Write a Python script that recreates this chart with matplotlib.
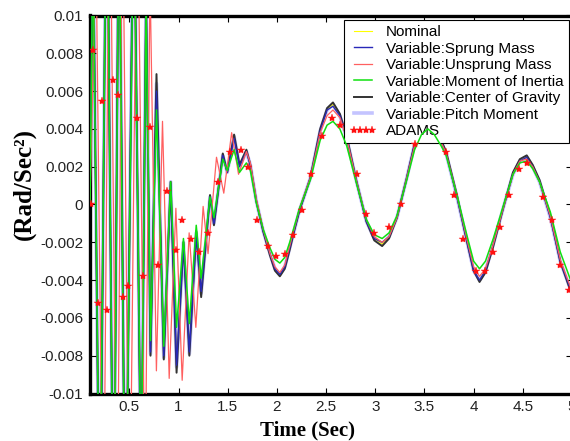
import matplotlib
matplotlib.use("Agg")
import matplotlib.pyplot as plt

# ---------------- data ----------------
t_main = [0.10, 0.13, 0.20, 0.27, 0.34, 0.395, 0.46, 0.545, 0.62, 0.67,
          0.715, 0.776, 0.85, 0.92, 0.98, 1.05, 1.11, 1.18, 1.23, 1.32,
          1.36, 1.45, 1.495, 1.565, 1.62, 1.69, 1.73, 1.79, 1.86, 1.93,
          1.98, 2.03, 2.08, 2.13, 2.18, 2.23, 2.34, 2.44, 2.51, 2.57,
          2.64, 2.71, 2.81, 2.91, 2.99, 3.07, 3.14, 3.22, 3.32, 3.40,
          3.47, 3.535, 3.60, 3.67, 3.72, 3.83, 3.93, 4.00, 4.06, 4.12,
          4.20, 4.30, 4.40, 4.47, 4.54, 4.60, 4.67, 4.78, 4.88, 5.00]

v_cg = [0.0, 0.015, -0.020, 0.020, -0.020, 0.018, -0.020, 0.018, -0.016, 0.011,
        -0.0080, 0.0069, -0.0082, 0.0012, -0.0089, -0.0020, -0.0080, -0.0014, -0.0049, 0.0005,
        -0.0011, 0.0027, 0.0017, 0.0037, 0.0021, 0.0029, 0.0021, 0.0002, -0.0014, -0.0027,
        -0.0035, -0.0038, -0.0034, -0.0024, -0.0013, -0.0003, 0.0014, 0.0040, 0.0051, 0.0054,
        0.0048, 0.0036, 0.0012, -0.0009, -0.0019, -0.0022, -0.0018, -0.0007, 0.0014, 0.0032,
        0.0041, 0.0044, 0.0041, 0.0034, 0.0028, 0.0005, -0.0019, -0.0035, -0.0041, -0.0036,
        -0.0022, -0.0002, 0.0017, 0.0024, 0.0026, 0.0021, 0.0013, -0.0006, -0.0030, -0.0048]

v_sprung = [0.0, 0.015, -0.020, 0.020, -0.020, 0.018, -0.020, 0.018, -0.016, 0.011,
            -0.0078, 0.0060, -0.0080, 0.0011, -0.0085, -0.0021, -0.0078, -0.0016, -0.0046, 0.0004,
            -0.0010, 0.0026, 0.0017, 0.0035, 0.0020, 0.0028, 0.0021, 0.0002, -0.0014, -0.0026,
            -0.0034, -0.0037, -0.0033, -0.0023, -0.0013, -0.0003, 0.0014, 0.0039, 0.0050, 0.0052,
            0.0047, 0.0035, 0.0012, -0.0009, -0.0018, -0.0020, -0.0017, -0.0007, 0.0014, 0.0032,
            0.0041, 0.0044, 0.0041, 0.0033, 0.0027, 0.0004, -0.0019, -0.0035, -0.0040, -0.0035,
            -0.0021, -0.0002, 0.0016, 0.0023, 0.0025, 0.0020, 0.0012, -0.0007, -0.0030, -0.0047]

v_inertia = [0.0, 0.014, -0.019, 0.020, -0.020, 0.017, -0.020, 0.017, -0.015, 0.0105,
             -0.0072, 0.0050, -0.0075, 0.0012, -0.0065, -0.0018, -0.0063, -0.0011, -0.0039, 0.0004,
             -0.0007, 0.0024, 0.0018, 0.0029, 0.0017, 0.0022, 0.0018, 0.0001, -0.0013, -0.0023,
             -0.0029, -0.0031, -0.0028, -0.0020, -0.0011, -0.0002, 0.0013, 0.0034, 0.0042, 0.0044,
             0.0040, 0.0031, 0.0011, -0.0008, -0.0016, -0.0018, -0.0015, -0.0006, 0.0013, 0.0029,
             0.0037, 0.0040, 0.0037, 0.0031, 0.0026, 0.0005, -0.0016, -0.0030, -0.0034, -0.0030,
             -0.0018, -0.0001, 0.0016, 0.0022, 0.0023, 0.0019, 0.0012, -0.0004, -0.0025, -0.0042]

v_pitch = [0.0, 0.015, -0.020, 0.020, -0.020, 0.018, -0.020, 0.018, -0.016, 0.011,
           -0.0079, 0.0064, -0.0081, 0.0012, -0.0086, -0.0020, -0.0079, -0.0015, -0.0047, 0.0004,
           -0.0010, 0.0026, 0.0017, 0.0036, 0.0020, 0.0028, 0.0021, 0.0002, -0.0014, -0.0026,
           -0.0034, -0.0037, -0.0033, -0.0023, -0.0013, -0.0003, 0.0014, 0.0039, 0.0050, 0.0053,
           0.0047, 0.0035, 0.0012, -0.0009, -0.0018, -0.0021, -0.0017, -0.0007, 0.0014, 0.0032,
           0.0041, 0.0044, 0.0041, 0.0033, 0.0027, 0.0004, -0.0019, -0.0035, -0.0040, -0.0035,
           -0.0021, -0.0002, 0.0016, 0.0023, 0.0025, 0.0020, 0.0012, -0.0007, -0.0030, -0.0047]

v_nominal = [0.0, 0.015, -0.020, 0.020, -0.020, 0.018, -0.020, 0.018, -0.016, 0.011,
             -0.0079, 0.0063, -0.0081, 0.0012, -0.0086, -0.0020, -0.0079, -0.0015, -0.0047, 0.0004,
             -0.0010, 0.0026, 0.0017, 0.0036, 0.0020, 0.0028, 0.0021, 0.0002, -0.0014, -0.0026,
             -0.0034, -0.0037, -0.0033, -0.0023, -0.0013, -0.0003, 0.0014, 0.0039, 0.0050, 0.0053,
             0.0047, 0.0035, 0.0012, -0.0009, -0.0018, -0.0021, -0.0017, -0.0007, 0.0014, 0.0032,
             0.0041, 0.0044, 0.0041, 0.0033, 0.0027, 0.0004, -0.0019, -0.0035, -0.0040, -0.0035,
             -0.0021, -0.0002, 0.0016, 0.0023, 0.0025, 0.0020, 0.0012, -0.0007, -0.0030, -0.0047]

t_unsprung = [0.10, 0.16, 0.235, 0.30, 0.375, 0.43, 0.50, 0.58, 0.66, 0.71,
              0.775, 0.837, 0.905, 0.973, 1.037, 1.108, 1.176, 1.25, 1.30, 1.386,
              1.46, 1.54, 1.61, 1.69, 1.73, 1.79, 1.86, 1.93, 1.98, 2.03,
              2.08, 2.13, 2.18, 2.23, 2.34, 2.44, 2.51, 2.57, 2.64, 2.71,
              2.81, 2.91, 2.99, 3.07, 3.14, 3.22, 3.32, 3.40, 3.47, 3.535,
              3.60, 3.67, 3.72, 3.83, 3.93, 4.00, 4.06, 4.12, 4.20, 4.30,
              4.40, 4.47, 4.54, 4.60, 4.67, 4.78, 4.88, 5.00]
v_unsprung = [0.0, 0.014, -0.020, 0.020, -0.020, 0.018, -0.020, 0.018, -0.016, 0.012,
              -0.0088, 0.0044, -0.0092, -0.0002, -0.0093, -0.0015, -0.0065, -0.0001, -0.0026, 0.0025,
              0.0006, 0.0038, 0.0016, 0.0028, 0.0022, 0.0003, -0.0013, -0.0026, -0.0033, -0.0036,
              -0.0032, -0.0022, -0.0012, -0.0002, 0.0014, 0.0038, 0.0047, 0.0050, 0.0046, 0.0035,
              0.0012, -0.0008, -0.0017, -0.0020, -0.0017, -0.0007, 0.0014, 0.0031, 0.0040, 0.0043,
              0.0040, 0.0033, 0.0027, 0.0005, -0.0018, -0.0033, -0.0038, -0.0034, -0.0021, -0.0002,
              0.0016, 0.0023, 0.0024, 0.0020, 0.0012, -0.0006, -0.0029, -0.0046]

t_adams = [0.11, 0.13, 0.186, 0.22, 0.274, 0.33, 0.38, 0.44, 0.49, 0.58,
           0.64, 0.71, 0.79, 0.885, 0.97, 1.04, 1.13, 1.21, 1.30, 1.40,
           1.52, 1.63, 1.71, 1.80, 1.91, 1.99, 2.08, 2.16, 2.26, 2.35,
           2.46, 2.56, 2.64, 2.81, 2.91, 2.99, 3.14, 3.26, 3.40, 3.72,
           3.80, 3.89, 4.02, 4.12, 4.20, 4.27, 4.36, 4.46, 4.54, 4.71,
           4.80, 4.88, 4.97]
v_adams = [0.0000, 0.0082, -0.0052, 0.0055, -0.0056, 0.0066, 0.0058, -0.0049, -0.0043, 0.0046,
           -0.0038, 0.0041, -0.0032, 0.0007, -0.0024, -0.0008, -0.0018, -0.0025, -0.0015, 0.0012,
           0.0028, 0.0029, 0.0020, -0.0008, -0.0022, -0.0027, -0.0026, -0.0016, -0.0003, 0.0016,
           0.0036, 0.0046, 0.0042, 0.0016, -0.0005, -0.0015, -0.0012, 0.0000, 0.0032, 0.0028,
           0.0005, -0.0018, -0.0035, -0.0035, -0.0025, -0.0012, 0.0005, 0.0019, 0.0022, 0.0004,
           -0.0008, -0.0032, -0.0045]

series_labels = ["Nominal", "Variable:Sprung Mass", "Variable:Unsprung Mass",
                 "Variable:Moment of Inertia", "Variable:Center of Gravity",
                 "Variable:Pitch Moment", "ADAMS"]

x_ticks = [0.5, 1, 1.5, 2, 2.5, 3, 3.5, 4, 4.5, 5]
x_ticklabels = ["0.5", "1", "1.5", "2", "2.5", "3", "3.5", "4", "4.5", "5"]
y_ticks = [-0.01, -0.008, -0.006, -0.004, -0.002, 0, 0.002, 0.004, 0.006, 0.008, 0.01]
y_ticklabels = ["-0.01", "-0.008", "-0.006", "-0.004", "-0.002", "0",
                "0.002", "0.004", "0.006", "0.008", "0.01"]

# ---------------- figure ----------------
plt.rcParams['font.family'] = ['Liberation Sans', 'DejaVu Sans']
plt.rcParams['axes.unicode_minus'] = False

fig = plt.figure(figsize=(5.70, 4.41), dpi=100)
ax = fig.add_axes([90 / 570, 1 - 393.5 / 441, 482 / 570, 378 / 441])

ax.plot(t_main, v_nominal, color='#ffff00', lw=0.8, label=series_labels[0], zorder=2)
ax.plot(t_main, v_sprung, color='#2828b8', lw=1.0, label=series_labels[1], zorder=4)
ax.plot(t_unsprung, v_unsprung, color='#ff6060', lw=0.9, label=series_labels[2], zorder=5)
ax.plot(t_main, v_inertia, color='#10e010', lw=1.1, label=series_labels[3], zorder=6)
ax.plot(t_main, v_cg, color='#333333', lw=1.4, label=series_labels[4], zorder=3)
ax.plot(t_main, v_pitch, color='#c4c4ff', lw=2.6, label=series_labels[5], zorder=1)
ax.plot(t_adams, v_adams, linestyle='none', marker='*', color='#ff1010',
        markersize=6, markeredgewidth=0.3, label=series_labels[6], zorder=7)

ax.set_xlim(0.1, 5.0)
ax.set_ylim(-0.01, 0.01)
ax.set_xticks(x_ticks)
ax.set_xticklabels(x_ticklabels)
ax.set_yticks(y_ticks)
ax.set_yticklabels(y_ticklabels)
ax.tick_params(direction='in', length=4, width=0.8, labelsize=11, pad=5,
               top=True, right=True, colors='black')
ax.tick_params(axis='x', labelcolor='#222222')
ax.tick_params(axis='y', labelcolor='#222222')
for s in ax.spines.values():
    s.set_linewidth(2.4)

ax.set_xlabel("Time (Sec)", family=['Liberation Serif', 'DejaVu Serif'],
              fontweight='bold', fontsize=15)
ax.xaxis.set_label_coords(0.452, -0.072)
ax.set_ylabel("(Rad/Sec²)", family=['Liberation Serif', 'DejaVu Serif'],
              fontweight='bold', fontsize=18)
ax.yaxis.set_label_coords(-0.112, 0.555)

leg = ax.legend(loc='upper right', bbox_to_anchor=(0.994, 0.988), borderaxespad=0,
                fontsize=11, numpoints=4, handlelength=1.8, handletextpad=0.6,
                labelspacing=0.16, borderpad=0.35, fancybox=False, framealpha=1,
                edgecolor='black')
leg.get_frame().set_linewidth(0.8)

fig.savefig("out.png", dpi=100)
